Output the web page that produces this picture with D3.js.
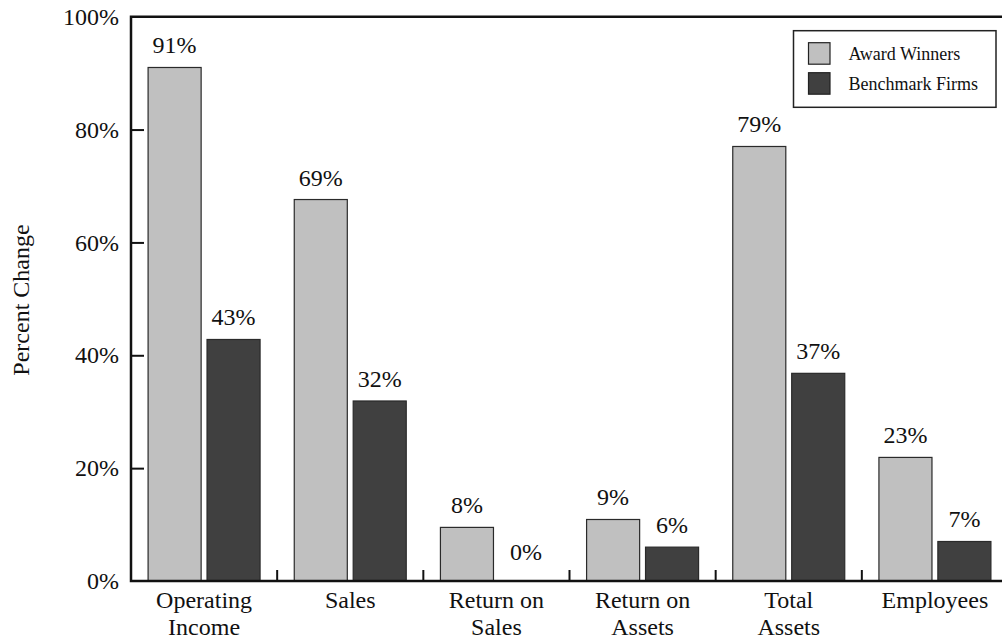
<!DOCTYPE html>
<html>
<head>
<meta charset="utf-8">
<script src="https://cdn.jsdelivr.net/npm/d3@7"></script>
<style>
  body { margin: 0; background: #fff; }
  svg text { font-family: "Liberation Serif", "DejaVu Serif", serif !important; fill: #111; }
</style>
</head>
<body>
<div id="chart"></div>
<script>
// data
var categories = [["Operating", "Income"], ["Sales"], ["Return on", "Sales"], ["Return on", "Assets"], ["Total", "Assets"], ["Employees"]];
var seriesNames = ["Award Winners", "Benchmark Firms"];
var awardValues = [91, 67.6, 9.5, 10.9, 77.0, 21.9];
var benchValues = [42.8, 31.9, 0, 6.0, 36.8, 7.0];
var awardLabels = ["91%", "69%", "8%", "9%", "79%", "23%"];
var benchLabels = ["43%", "32%", "0%", "6%", "37%", "7%"];
var yTicks = [0, 20, 40, 60, 80, 100];
var colors = ["#c0c0c0", "#404040"];

var serif = "'Liberation Serif', 'DejaVu Serif', serif";

// dimensions
var width = 1002, height = 641;
var margin = {top: 16.7, right: -6, bottom: 60, left: 131};

var svg = d3.select("#chart")
  .append("svg")
    .attr("width", width)
    .attr("height", height)
    .style("font-family", serif);

var catIdx = categories.map(function(d, i) { return i; });

var x = d3.scaleBand()
  .domain(catIdx)
  .range([margin.left, width - margin.right]);

var x1 = d3.scaleBand()
  .domain([0, 1])
  .range([0, x.bandwidth()])
  .paddingInner(0.1)
  .paddingOuter(0.29);

var y = d3.scaleLinear()
  .domain([0, 100])
  .range([height - margin.bottom, margin.top]);

var rows = catIdx.map(function(i) {
  return [
    {s: 0, cat: i, value: awardValues[i], label: awardLabels[i]},
    {s: 1, cat: i, value: benchValues[i], label: benchLabels[i]}
  ];
});

// bars
var groups = svg.selectAll("g.grp")
  .data(rows)
  .enter()
  .append("g")
    .attr("class", "grp")
    .attr("transform", function(d, i) { return "translate(" + x(i) + ",0)"; });

groups.selectAll("rect")
  .data(function(d) { return d; })
  .enter()
  .append("rect")
    .attr("x", function(d) { return x1(d.s); })
    .attr("y", function(d) { return y(d.value); })
    .attr("width", x1.bandwidth())
    .attr("height", function(d) { return y(0) - y(d.value); })
    .style("fill", function(d) { return colors[d.s]; })
    .attr("stroke", function(d) { return d.value > 0 ? "#2a2a2a" : "#bbb"; })
    .attr("stroke-width", 1.2);

// value labels
groups.selectAll("text.val")
  .data(function(d) { return d; })
  .enter()
  .append("text")
    .attr("class", "val")
    .attr("x", function(d) { return x1(d.s) + x1.bandwidth() / 2; })
    .attr("y", function(d) { return Math.min(y(d.value) - 14, y(0) - 21); })
    .attr("text-anchor", "middle")
    .style("font-family", serif)
    .style("font-size", "24px")
    .text(function(d) { return d.label; });

// y axis
var yAxis = svg.append("g")
  .attr("transform", "translate(" + margin.left + ",0)")
  .call(d3.axisLeft(y).tickValues(yTicks).tickSizeInner(-13).tickSizeOuter(0).tickPadding(12)
    .tickFormat(function(d) { return d + "%"; }));
yAxis.attr("font-family", null);
yAxis.select(".domain").remove();
yAxis.selectAll(".tick line")
  .attr("stroke", "#111")
  .attr("stroke-width", 2)
  .attr("display", function(d) { return (d === 0 || d === 100) ? "none" : null; });
yAxis.selectAll(".tick text")
  .style("font-size", "24px")
  .style("font-family", serif)
  .attr("fill", "#111");

// x axis labels
var xAxis = svg.append("g")
  .attr("transform", "translate(0," + y(0) + ")")
  .call(d3.axisBottom(x).tickSize(0).tickFormat(""));
xAxis.attr("font-family", null);
xAxis.select(".domain").remove();
xAxis.selectAll(".tick").each(function(i) {
  var t = d3.select(this).append("text")
    .attr("text-anchor", "middle")
    .style("font-family", serif)
    .style("font-size", "24px");
  categories[i].forEach(function(line, k) {
    t.append("tspan")
      .attr("x", 0)
      .attr("y", 27 + k * 27)
      .text(line);
  });
});

// boundary ticks
svg.selectAll("line.bnd")
  .data(catIdx.slice(1))
  .enter()
  .append("line")
    .attr("class", "bnd")
    .attr("x1", function(i) { return x(i); })
    .attr("x2", function(i) { return x(i); })
    .attr("y1", y(0))
    .attr("y2", y(0) - 11)
    .attr("stroke", "#111")
    .attr("stroke-width", 2);

// frame: top, left, bottom
svg.append("path")
  .attr("d", "M" + width + "," + y(100) + "H" + margin.left + "V" + y(0) + "H" + width)
  .attr("fill", "none")
  .attr("stroke", "#111")
  .attr("stroke-width", 2.5);

// y title
svg.append("text")
  .attr("transform", "translate(29,300)rotate(-90)")
  .attr("text-anchor", "middle")
  .style("font-family", serif)
  .style("font-size", "24px")
  .text("Percent Change");

// legend
var legend = svg.append("g").attr("transform", "translate(793.5,30.7)");
legend.append("rect")
  .attr("width", 202.5)
  .attr("height", 76.6)
  .attr("fill", "#fff")
  .attr("stroke", "#222")
  .attr("stroke-width", 1.5);
var items = legend.selectAll("g.item")
  .data(seriesNames)
  .enter()
  .append("g")
    .attr("class", "item")
    .attr("transform", function(d, i) { return "translate(15," + (12 + i * 30) + ")"; });
items.append("rect")
  .attr("width", 21.5)
  .attr("height", 21.5)
  .style("fill", function(d, i) { return colors[i]; })
  .attr("stroke", "#222")
  .attr("stroke-width", 1.2);
items.append("text")
  .attr("x", 40)
  .attr("y", 17)
  .style("font-family", serif)
  .style("font-size", "18px")
  .text(function(d) { return d; });
</script>
</body>
</html>
